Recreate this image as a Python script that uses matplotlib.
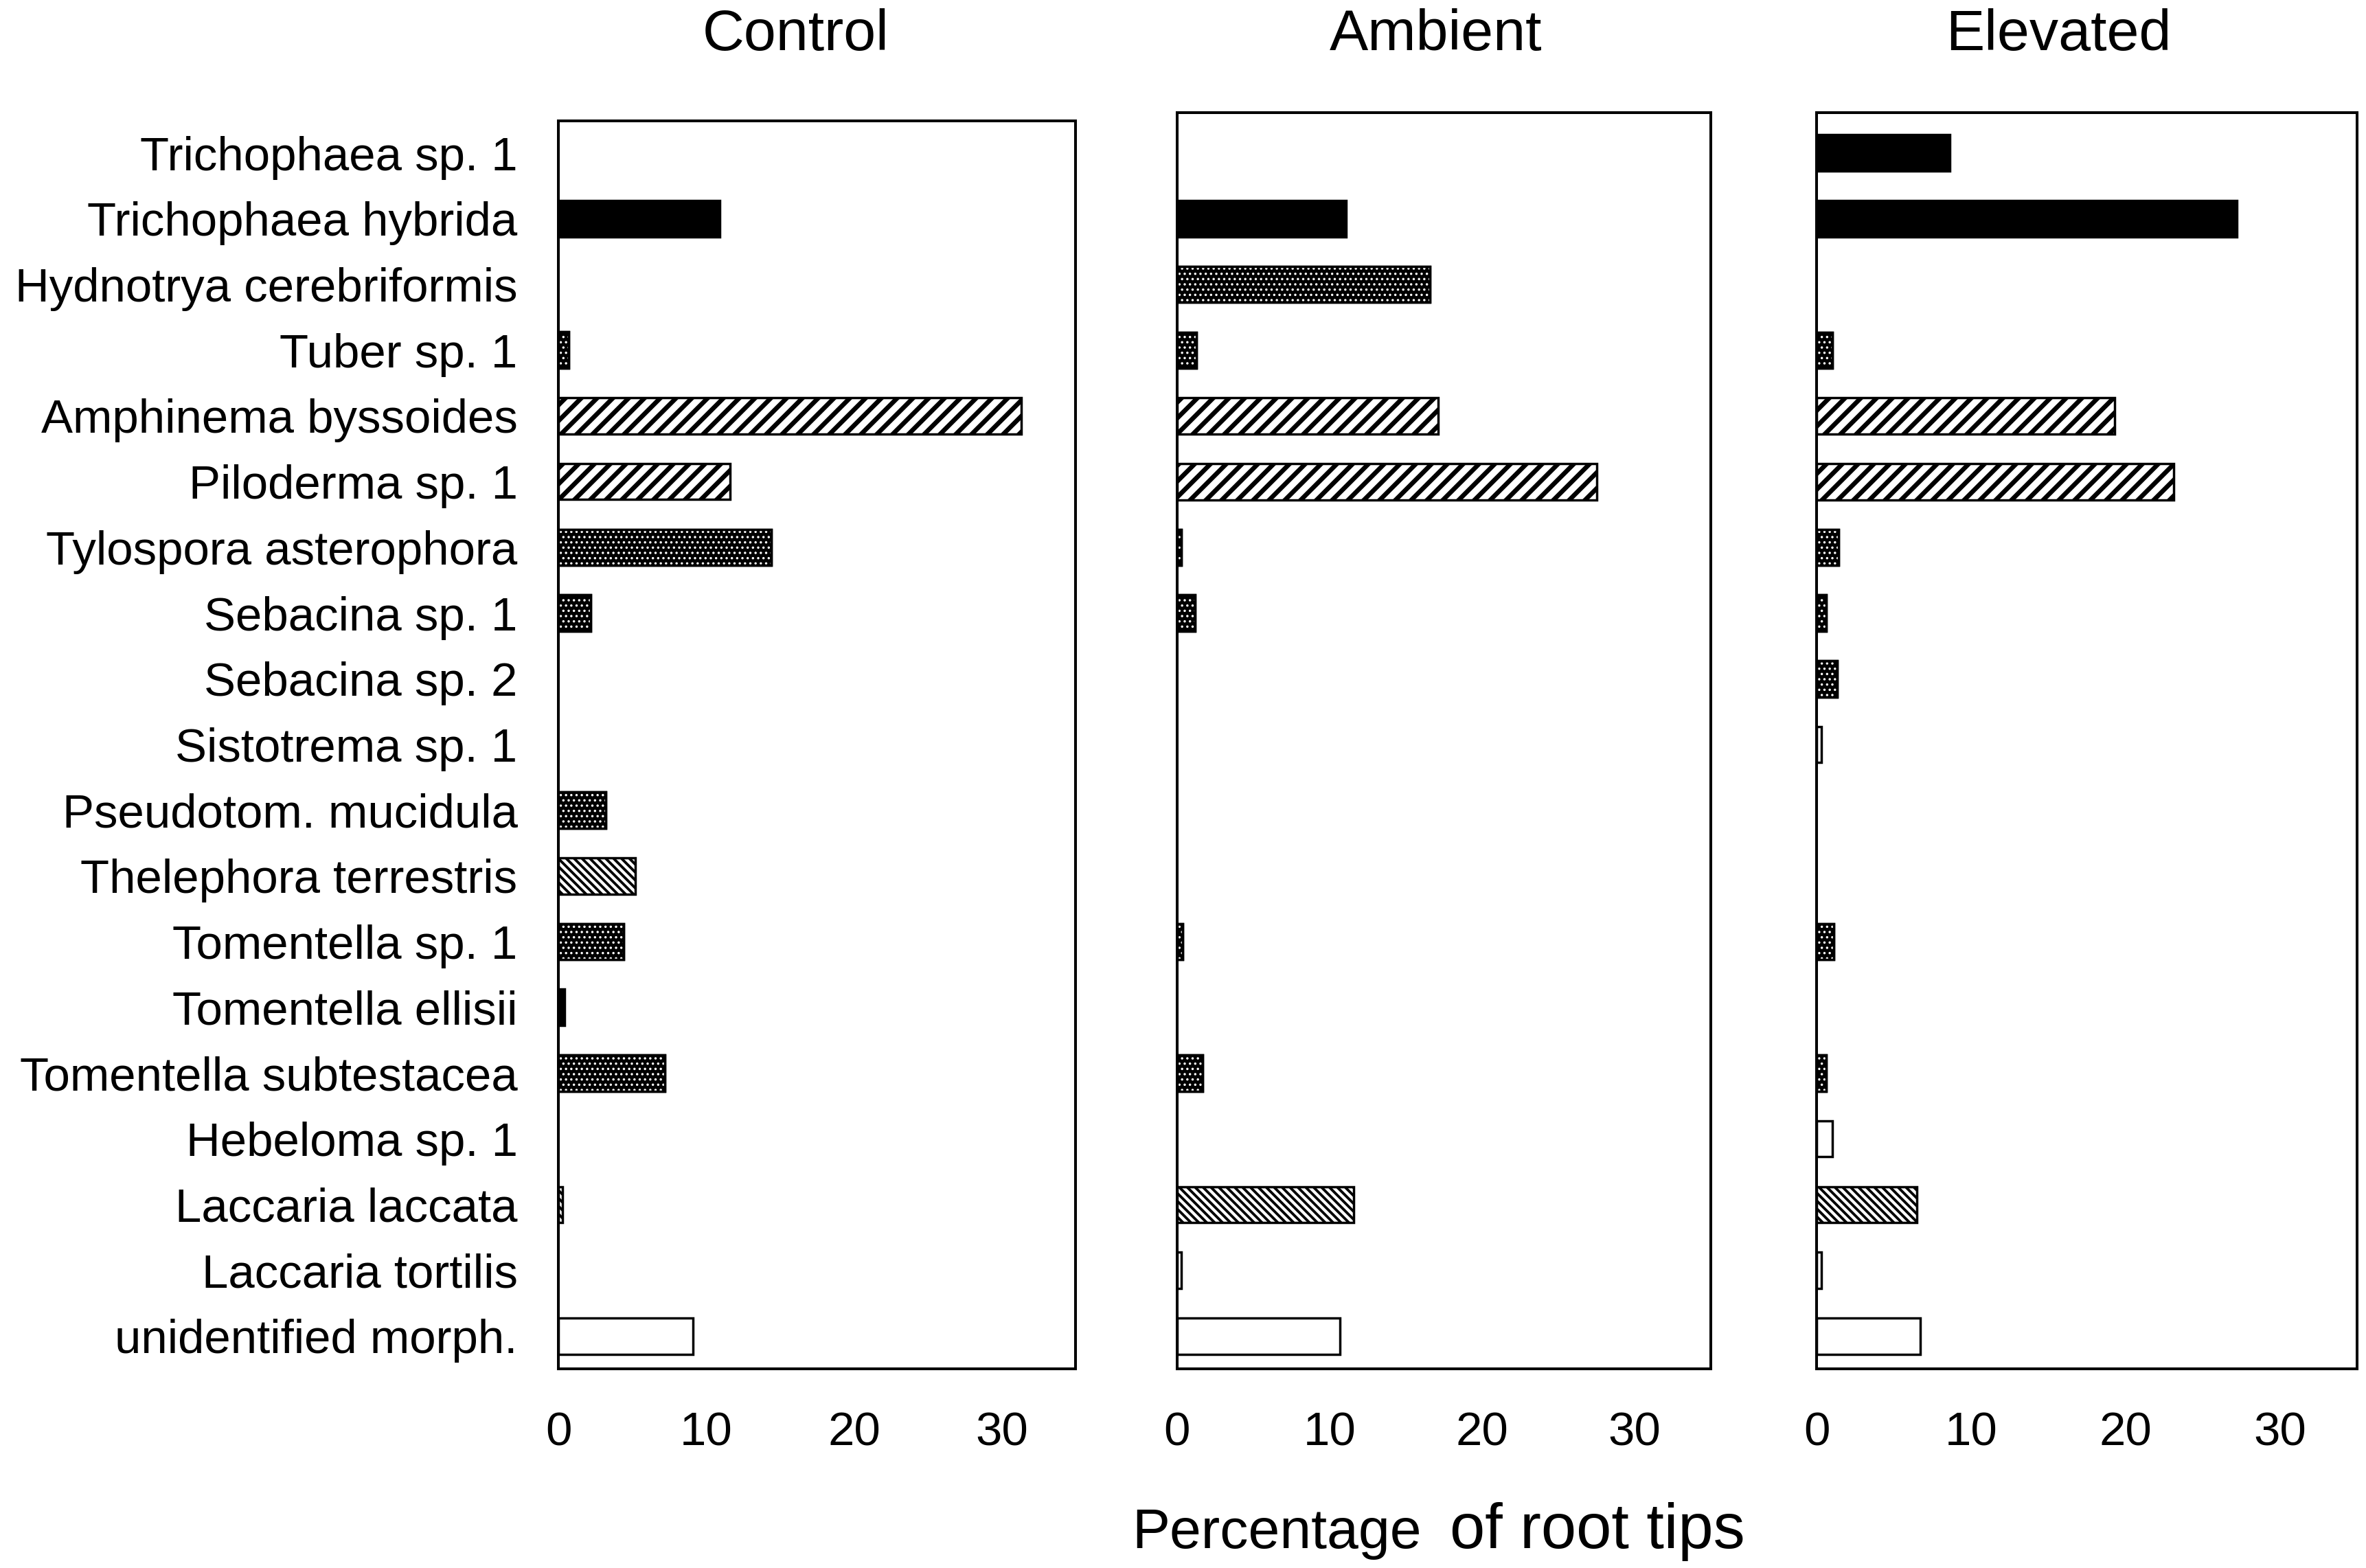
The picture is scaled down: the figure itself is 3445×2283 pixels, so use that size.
import numpy as np
import matplotlib
matplotlib.use('Agg')
import matplotlib.pyplot as plt

plt.rcParams['font.family'] = ['Liberation Sans', 'DejaVu Sans']
plt.rcParams['hatch.linewidth'] = 1.0

species = ['Trichophaea sp. 1', 'Trichophaea hybrida', 'Hydnotrya cerebriformis',
           'Tuber sp. 1', 'Amphinema byssoides', 'Piloderma sp. 1',
           'Tylospora asterophora', 'Sebacina sp. 1', 'Sebacina sp. 2',
           'Sistotrema sp. 1', 'Pseudotom. mucidula', 'Thelephora terrestris',
           'Tomentella sp. 1', 'Tomentella ellisii', 'Tomentella subtestacea',
           'Hebeloma sp. 1', 'Laccaria laccata', 'Laccaria tortilis',
           'unidentified morph.']
patterns = ['black', 'black', 'dots', 'dots', 'fwd', 'fwd', 'dots', 'dots', 'dots',
            'white', 'dots', 'back', 'dots', 'black', 'dots', 'white', 'back',
            'white', 'white']

control = [0, 10.9, 0, 0.7, 31.3, 11.6, 14.4, 2.2, 0, 0, 3.2, 5.2, 4.4, 0.4, 7.2,
           0, 0.3, 0, 9.1]
ambient = [0, 11.1, 16.6, 1.3, 17.1, 27.5, 0.3, 1.2, 0, 0, 0, 0, 0.4, 0, 1.7,
           0, 11.6, 0.3, 10.7]
elevated = [8.6, 27.2, 0, 1.0, 19.3, 23.1, 1.4, 0.6, 1.3, 0.3, 0, 0, 1.1, 0, 0.6,
            1.0, 6.5, 0.3, 6.7]
treatments = ['Control', 'Ambient', 'Elevated']
xticks = [0, 10, 20, 30]

DPI = 138
BH = 0.55   # bar height
EW = 1.8    # bar edge width

fig = plt.figure(figsize=(3445 / DPI, 2283 / DPI), dpi=DPI)
boxes = [(0.236, 0.127, 0.2187, 0.796),
         (0.4974, 0.127, 0.2258, 0.801),
         (0.7679, 0.127, 0.2283, 0.801)]
ytops = [-0.49, -0.61, -0.61]


def set_hlw(bars, lw):
    for b in bars:
        if hasattr(b, 'set_hatch_linewidth'):
            b.set_hatch_linewidth(lw)


def draw_bars(ax, values):
    for i, (val, pat) in enumerate(zip(values, patterns)):
        if val <= 0:
            continue
        if pat == 'black':
            ax.barh(i, val, height=BH, color='black', edgecolor='black', linewidth=EW)
        elif pat == 'white':
            ax.barh(i, val, height=BH, color='white', edgecolor='black', linewidth=EW)
        elif pat == 'dots':
            # black bar with white dots on top, then the outline again
            ax.barh(i, val, height=BH, color='black', edgecolor='black', linewidth=EW)
            b = ax.barh(i, val, height=BH, facecolor='none', edgecolor='white',
                        linewidth=0, hatch='...')
            set_hlw(b, 1.0)
            ax.barh(i, val, height=BH, facecolor='none', edgecolor='black', linewidth=EW)
        elif pat == 'fwd':
            b = ax.barh(i, val, height=BH, color='white', edgecolor='black',
                        linewidth=EW, hatch='//')
            set_hlw(b, 3.5)
        elif pat == 'back':
            b = ax.barh(i, val, height=BH, color='white', edgecolor='black',
                        linewidth=EW, hatch='\\\\\\\\')
            set_hlw(b, 2.0)


for k, (name, vals) in enumerate(zip(treatments, [control, ambient, elevated])):
    ax = fig.add_axes(boxes[k])
    draw_bars(ax, vals)
    ax.set_xlim(0, 35)
    ax.set_ylim(18.5, ytops[k])
    ax.set_xticks(xticks)
    ax.set_yticks(np.arange(len(species)))
    if k == 0:
        ax.set_yticklabels(species)
    else:
        ax.set_yticklabels([])
    ax.tick_params(axis='x', length=0, labelsize=36, pad=32)
    ax.tick_params(axis='y', length=0, labelsize=36, pad=31)
    for s in ax.spines.values():
        s.set_linewidth(2.1)

fig.text(0.3364, 0.968, 'Control', fontsize=44, ha='center', va='baseline')
fig.text(0.6068, 0.968, 'Ambient', fontsize=44, ha='center', va='baseline')
fig.text(0.870, 0.968, 'Elevated', fontsize=44, ha='center', va='baseline')

fig.text(942 / 1568, 0.0125, 'Percentage', fontsize=43, ha='right', va='baseline')
fig.text(961 / 1568, 0.0125, 'of root tips', fontsize=48, ha='left', va='baseline')

fig.savefig('out.png', dpi=DPI)
